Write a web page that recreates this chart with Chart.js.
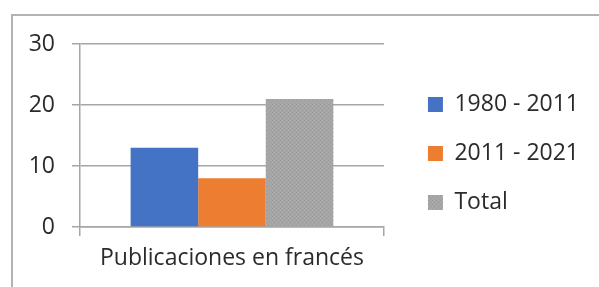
<!DOCTYPE html>
<html>
<head>
<meta charset="utf-8">
<script src="https://cdn.jsdelivr.net/npm/chart.js@4.4.1/dist/chart.umd.min.js"></script>
<style>
    html, body { margin: 0; padding: 0; background: #fff; overflow: hidden; }
    #grafico { position: absolute; left: 0; top: 0; }
    /* marco del grafico (solo se ven los bordes superior e izquierdo) */
    #marco {
        position: absolute; left: 11px; top: 14px; width: 640px; height: 320px;
        border-left: 2px solid #b3b3b3; border-top: 2px solid #b3b3b3;
        pointer-events: none;
    }
</style>
</head>
<body>
<canvas id="grafico" width="599" height="287"></canvas>
<div id="marco"></div>
<script>
// Datos del grafico
const categorias = ['Publicaciones en francés'];
const series = ['1980 - 2011', '2011 - 2021', 'Total'];
const valores1980_2011 = [13];
const valores2011_2021 = [8];
const valoresTotal = [21];
const ticksY = [0, 10, 20, 30];

const colorTexto = '#2b2b2b';
const colorRejilla = '#a6a6a6';

Chart.defaults.font.family = "'Open Sans', sans-serif";
Chart.defaults.color = colorTexto;

const canvas = document.getElementById('grafico');
const ctx = canvas.getContext('2d');

// Relleno punteado de la barra gris
function patronGris() {
    const c = document.createElement('canvas');
    c.width = 4; c.height = 4;
    const g = c.getContext('2d');
    g.fillStyle = '#a5a5a5'; g.fillRect(0, 0, 4, 4);
    g.fillStyle = '#9b9b9b'; g.fillRect(0, 0, 1, 1); g.fillRect(2, 2, 1, 1);
    g.fillStyle = '#afafaf'; g.fillRect(2, 0, 1, 1); g.fillRect(0, 2, 1, 1);
    return ctx.createPattern(c, 'repeat');
}

new Chart(ctx, {
    type: 'bar',
    data: {
        labels: categorias,
        datasets: [
            { label: series[0], data: valores1980_2011, backgroundColor: '#4472C4' },
            { label: series[1], data: valores2011_2021, backgroundColor: '#ED7D31' },
            { label: series[2], data: valoresTotal, backgroundColor: patronGris() }
        ]
    },
    options: {
        responsive: false,
        animation: false,
        categoryPercentage: 0.667,
        barPercentage: 1,
        layout: { padding: { top: 20, right: 10, bottom: 0, left: 0 } },
        scales: {
            x: {
                grid: { drawOnChartArea: false, drawTicks: true, tickLength: 9, color: colorRejilla, lineWidth: 1.5 },
                border: { display: true, color: colorRejilla, width: 1.5 },
                ticks: { font: { size: 23 }, padding: 9, color: colorTexto },
                afterFit: s => { s.height = 60; }
            },
            y: {
                min: 0,
                max: 30,
                grid: { tickLength: 8, color: colorRejilla, lineWidth: 1.5 },
                border: { display: true, color: colorRejilla, width: 1.5 },
                ticks: { font: { size: 23 }, padding: 17, color: colorTexto },
                afterBuildTicks: s => { s.ticks = ticksY.map(v => ({ value: v })); },
                afterFit: s => { s.width = 80; }
            },
            // espacio vacio entre el area de trazado y la leyenda
            hueco: {
                type: 'linear',
                position: 'right',
                grid: { display: false },
                border: { display: false },
                ticks: { display: false },
                afterFit: s => { s.width = 18; }
            }
        },
        plugins: {
            tooltip: { enabled: false },
            // titulo vacio: solo reserva el margen superior del area de trazado
            title: { display: true, text: '', fullSize: false, padding: 0, font: { size: 20, lineHeight: 1.2 } },
            legend: {
                position: 'right',
                maxWidth: 240,
                labels: {
                    boxWidth: 15,
                    boxHeight: 15,
                    padding: 26,
                    color: colorTexto,
                    font: { size: 23 }
                }
            }
        }
    }
});
</script>
</body>
</html>
